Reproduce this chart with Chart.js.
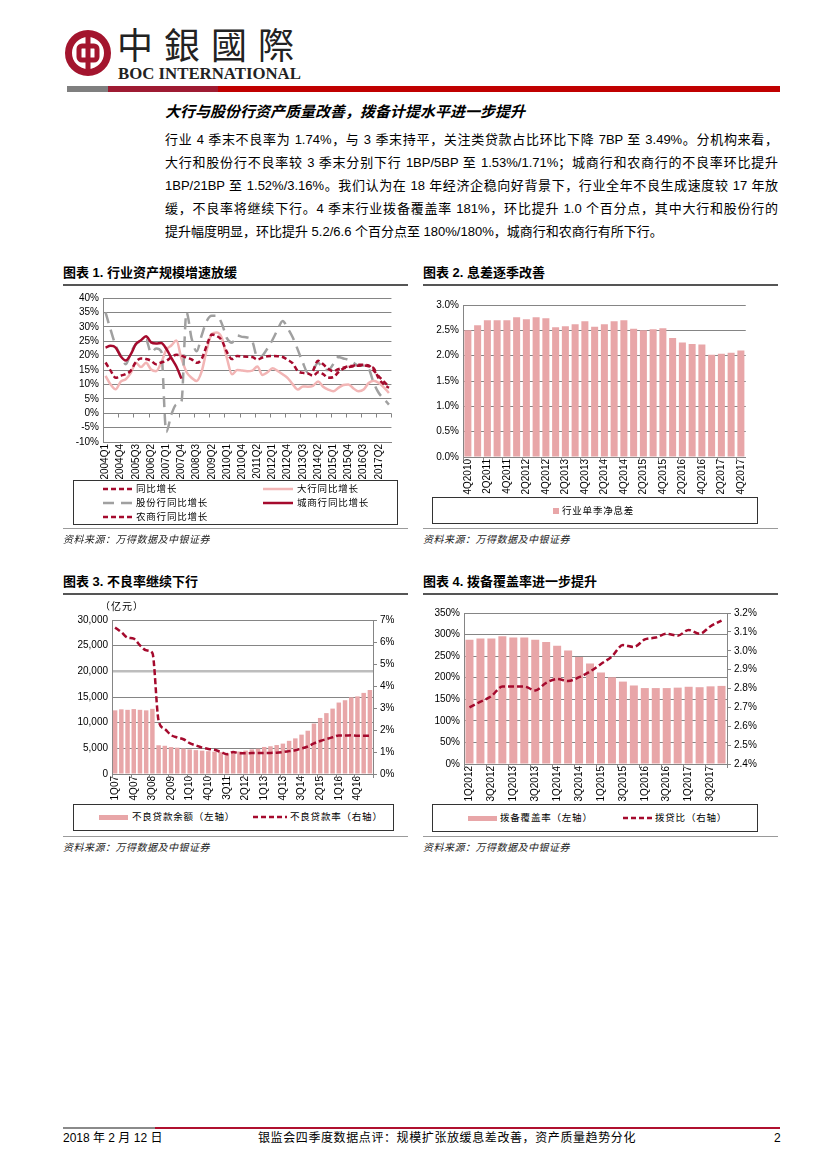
<!DOCTYPE html>
<html>
<head>
<meta charset="utf-8">
<script src="https://cdn.jsdelivr.net/npm/chart.js@4.4.1/dist/chart.umd.min.js"></script>
<style>
  body { margin: 0; width: 827px; height: 1169px; position: relative; background: #fff; overflow: hidden;
         font-family: "Liberation Sans", "Noto Sans CJK SC", sans-serif; color: #000; }
  .abs { position: absolute; }
  .para { position: absolute; left: 165px; width: 613px; font-size: 13px; line-height: 16px; white-space: nowrap; }
  .just { text-align: justify; text-align-last: justify; white-space: normal; }
  .ctitle { position: absolute; font-size: 13px; font-weight: 700; line-height: 16px; font-family: "Liberation Sans", "Noto Sans CJK SC", sans-serif; }
  .rule { position: absolute; height: 2px; background: #555; }
  .thin { position: absolute; height: 1px; background: #9a9a9a; }
  .src { position: absolute; font-size: 10px; font-style: italic; color: #222; line-height: 12px; letter-spacing: 0.5px; }
  .legbox { position: absolute; border: 1px solid #333; box-sizing: border-box; }
  .leg { position: absolute; font-size: 9.5px; letter-spacing: 0.8px; line-height: 12px; white-space: nowrap; }
  canvas { position: absolute; }
</style>
</head>
<body>

<!-- header -->
<svg class="abs" style="left:64px;top:28px" width="48" height="50" viewBox="0 0 48 50">
  <circle cx="24" cy="25" r="19.5" fill="none" stroke="#A3152E" stroke-width="7"/>
  <rect x="15" y="18" width="18" height="14" rx="3" fill="none" stroke="#A3152E" stroke-width="5"/>
  <rect x="21.5" y="4" width="5" height="42" fill="#A3152E"/>
</svg>
<div class="abs" style="left:117px;top:22px;font-family:'Noto Sans CJK TC';font-size:36px;line-height:42px;letter-spacing:11px;color:#222">中銀國際</div>
<div class="abs" style="left:118px;top:65px;font-family:'Liberation Serif';font-weight:700;font-size:16.8px;line-height:18px;color:#222">BOC INTERNATIONAL</div>
<div class="abs" style="left:67px;top:86px;width:41px;height:6px;background:#7f7f7f"></div>
<div class="abs" style="left:108px;top:86px;width:110px;height:6px;background:#9E1B32"></div>
<div class="abs" style="left:218px;top:86px;width:562px;height:6px;background:#C00000"></div>

<div class="abs" style="left:165px;top:103px;font-size:15px;font-weight:700;font-style:italic;line-height:18px">大行与股份行资产质量改善，拨备计提水平进一步提升</div>
<div class="para just" style="top:132px">行业 4 季末不良率为 1.74%，与 3 季末持平，关注类贷款占比环比下降 7BP 至 3.49%。分机构来看，</div>
<div class="para just" style="top:155px">大行和股份行不良率较 3 季末分别下行 1BP/5BP 至 1.53%/1.71%；城商行和农商行的不良率环比提升</div>
<div class="para just" style="top:178px">1BP/21BP 至 1.52%/3.16%。我们认为在 18 年经济企稳向好背景下，行业全年不良生成速度较 17 年放</div>
<div class="para just" style="top:201px">缓，不良率将继续下行。4 季末行业拨备覆盖率 181%，环比提升 1.0 个百分点，其中大行和股份行的</div>
<div class="para" style="top:224px">提升幅度明显，环比提升 5.2/6.6 个百分点至 180%/180%，城商行和农商行有所下行。</div>

<!-- chart titles -->
<div class="ctitle" style="left:63px;top:265px">图表 1. 行业资产规模增速放缓</div>
<div class="rule" style="left:63px;top:284px;width:345px"></div>
<div class="ctitle" style="left:423px;top:265px">图表 2. 息差逐季改善</div>
<div class="rule" style="left:423px;top:284px;width:355px"></div>
<div class="ctitle" style="left:63px;top:574px">图表 3. 不良率继续下行</div>
<div class="rule" style="left:63px;top:593px;width:345px"></div>
<div class="ctitle" style="left:423px;top:574px">图表 4. 拨备覆盖率进一步提升</div>
<div class="rule" style="left:423px;top:593px;width:355px"></div>

<canvas id="c1" width="340" height="192" style="left:63px;top:288px"></canvas>
<canvas id="c2" width="335" height="202" style="left:420px;top:295px"></canvas>
<canvas id="c3" width="345" height="193" style="left:63px;top:610px"></canvas>
<canvas id="c4" width="345" height="200" style="left:420px;top:603px"></canvas>

<div class="abs" style="left:100px;top:601px;font-size:10px;line-height:12px;letter-spacing:1px">（亿元）</div>

<!-- legends -->
<div class="legbox" style="left:73px;top:480px;width:325px;height:45px"></div>
<svg class="abs" style="left:103px;top:483px" width="30" height="40">
  <line x1="0" y1="6" x2="30" y2="6" stroke="#A50A2D" stroke-width="2.5" stroke-dasharray="5,3"/>
  <line x1="0" y1="20" x2="30" y2="20" stroke="#A0A0A0" stroke-width="2.5" stroke-dasharray="11,7"/>
  <line x1="0" y1="34" x2="30" y2="34" stroke="#A50A2D" stroke-width="2.5" stroke-dasharray="5,3"/>
</svg>
<svg class="abs" style="left:263px;top:483px" width="30" height="26">
  <line x1="0" y1="6" x2="30" y2="6" stroke="#F2B5B5" stroke-width="2.5"/>
  <line x1="0" y1="20" x2="30" y2="20" stroke="#A50A2D" stroke-width="2.5"/>
</svg>
<div class="leg" style="left:136px;top:483px">同比增长</div>
<div class="leg" style="left:136px;top:497px">股份行同比增长</div>
<div class="leg" style="left:136px;top:511px">农商行同比增长</div>
<div class="leg" style="left:297px;top:483px">大行同比增长</div>
<div class="leg" style="left:297px;top:497px">城商行同比增长</div>

<div class="legbox" style="left:432px;top:497px;width:326px;height:27px"></div>
<div class="abs" style="left:553px;top:508px;width:6px;height:6px;background:#E8A6A8"></div>
<div class="leg" style="left:562px;top:505px">行业单季净息差</div>

<div class="legbox" style="left:73px;top:804px;width:321px;height:27px"></div>
<div class="abs" style="left:99px;top:815px;width:29px;height:5px;background:#E8A6A8"></div>
<div class="leg" style="left:132px;top:811px">不良贷款余额（左轴）</div>
<svg class="abs" style="left:253px;top:812px" width="34" height="10">
  <line x1="0" y1="5" x2="34" y2="5" stroke="#A50A2D" stroke-width="2.5" stroke-dasharray="5,3"/>
</svg>
<div class="leg" style="left:290px;top:811px">不良贷款率（右轴）</div>

<div class="legbox" style="left:432px;top:804px;width:326px;height:28px"></div>
<div class="abs" style="left:468px;top:816px;width:29px;height:5px;background:#E8A6A8"></div>
<div class="leg" style="left:500px;top:812px">拨备覆盖率（左轴）</div>
<svg class="abs" style="left:623px;top:813px" width="30" height="10">
  <line x1="0" y1="5" x2="30" y2="5" stroke="#A50A2D" stroke-width="2.5" stroke-dasharray="5,3"/>
</svg>
<div class="leg" style="left:655px;top:812px">拨贷比（右轴）</div>

<!-- sources -->
<div class="thin" style="left:63px;top:528px;width:345px"></div>
<div class="thin" style="left:423px;top:528px;width:355px"></div>
<div class="src" style="left:63px;top:534px">资料来源：万得数据及中银证券</div>
<div class="src" style="left:423px;top:534px">资料来源：万得数据及中银证券</div>
<div class="thin" style="left:63px;top:836px;width:345px"></div>
<div class="thin" style="left:423px;top:836px;width:355px"></div>
<div class="src" style="left:63px;top:842px">资料来源：万得数据及中银证券</div>
<div class="src" style="left:423px;top:842px">资料来源：万得数据及中银证券</div>

<!-- footer -->
<div class="abs" style="left:63px;top:1127px;width:92px;height:2px;background:#8a8a8a"></div>
<div class="abs" style="left:155px;top:1127px;width:625px;height:2px;background:#B0102F"></div>
<div class="abs" style="left:63px;top:1131px;font-size:12px;line-height:15px">2018 年 2 月 12 日</div>
<div class="abs" style="left:258px;top:1131px;font-size:12px;line-height:15px;letter-spacing:0.6px">银监会四季度数据点评：规模扩张放缓息差改善，资产质量趋势分化</div>
<div class="abs" style="left:774px;top:1131px;font-size:12px;line-height:15px">2</div>

<script>
// ---- 图表1 data ----
const quarters1 = [
  '2004Q1','2004Q2','2004Q3','2004Q4','2005Q1','2005Q2','2005Q3','2005Q4',
  '2006Q1','2006Q2','2006Q3','2006Q4','2007Q1','2007Q2','2007Q3','2007Q4',
  '2008Q1','2008Q2','2008Q3','2008Q4','2009Q1','2009Q2','2009Q3','2009Q4',
  '2010Q1','2010Q2','2010Q3','2010Q4','2011Q1','2011Q1','2011Q2','2011Q3','2011Q4',
  '2012Q1','2012Q2','2012Q3','2012Q4','2013Q1','2013Q2','2013Q3','2013Q4',
  '2014Q1','2014Q2','2014Q3','2014Q4','2015Q1','2015Q2','2015Q3','2015Q4',
  '2016Q1','2016Q2','2016Q3','2016Q4','2017Q1','2017Q2','2017Q3','2017Q4'
];
const totalGrowth = [
  17.6, 14.8, 12.3, 13.0, 13.6, 14.8, 17.8, 19.0, 18.8, 18.2, 17.0, 17.6, 18.2, 19.4, 20.3, 20.0,
  19.3, 18.7, 17.5, 18.8, 23.5, 27.3, 26.8, 25.2, 21.2, 18.8, 19.9, 19.7, 19.6,
  19.5, 18.6, 19.3, 19.8, 19.9, 19.8, 19.5, 18.5, 17.3, 14.6, 14.0, 13.8, 13.0, 14.2, 13.6, 12.3,
  12.5, 14.2, 15.5, 16.0, 16.3, 16.5, 16.6, 16.3, 15.6, 12.0, 10.0, 8.8
];
const bigBanks = [
  13.0, 10.0, 8.3, 11.0, 11.8, 14.0, 17.5, 16.0, 17.5, 15.2, 14.6, 17.5, 22.0, 23.5, 25.2, 19.0,
  14.3, 12.3, 11.2, 14.5, 22.0, 27.5, 28.0, 26.0, 19.0, 13.5, 15.0, 14.8, 14.6,
  14.8, 16.2, 13.3, 14.2, 15.6, 14.7, 13.5, 12.2, 10.0, 8.2, 9.3, 9.2, 9.5, 11.0, 9.2, 8.2,
  7.6, 8.8, 9.8, 10.0, 8.6, 7.6, 8.2, 10.5, 11.3, 10.5, 9.0, 7.0
];
const jointStock = [
  35.0, 29.0, 23.5, 20.0, 17.0, 21.0, 24.0, 25.0, 25.5, 21.0, 22.5, 21.5, -6.5, -0.5, 3.0, 4.0,
  35.0, 26.0, 21.5, 27.0, 32.0, 33.8, 33.8, 31.0, 26.0, 24.5, 27.0, 26.5, 26.3,
  25.0, 19.5, 20.0, 22.5, 25.5, 29.0, 32.0, 29.5, 26.3, 22.0, 17.5, 14.0, 15.0, 17.5, 15.5, 15.0,
  17.0, 19.5, 19.0, 18.5, 17.5, 16.5, 16.5, 15.5, 10.5, 7.0, 5.0, 3.0
];
const cityBanks = [
  22.8, 23.4, 22.8, 19.8, 18.3, 20.5, 24.0, 25.3, 26.7, 24.6, 24.2, 24.4, 22.4, 19.2, 16.2, 12.0,
  null, null, null, null, null, null, null, null, null, null, null, null, null,
  null, null, null, null, null, null, null, null, null, null, null, null, null, null, null, null,
  null, null, null, null, null, null, null, null, null, null, null, null
];
const ruralBanks = [
  null, null, null, null, null, null, null, null, null, null, null, null, null, null, null, null,
  null, null, null, null, null, null, null, null, null, null, null, null, null,
  null, null, null, null, null, null, null, null, null, null, null, null, 14.7, 18.2, 17.0, 15.4,
  14.6, 15.3, 15.8, 16.3, 16.5, 16.8, 16.8, 16.6, 14.8, 12.8, 11.0, 9.2
];

// ---- 图表2 data ----
const quarters2 = [
  '4Q2010','1Q2011','2Q2011','3Q2011','4Q2011','1Q2012','2Q2012','3Q2012','4Q2012',
  '1Q2013','2Q2013','3Q2013','4Q2013','1Q2014','2Q2014','3Q2014','4Q2014',
  '1Q2015','2Q2015','3Q2015','4Q2015','1Q2016','2Q2016','3Q2016','4Q2016',
  '1Q2017','2Q2017','3Q2017','4Q2017'
];
const nim = [
  2.50, 2.60, 2.70, 2.70, 2.70, 2.76, 2.72, 2.76, 2.74, 2.56, 2.58, 2.62, 2.68, 2.57, 2.62, 2.68,
  2.70, 2.53, 2.50, 2.52, 2.54, 2.35, 2.26, 2.23, 2.22, 2.02, 2.04, 2.06, 2.10
];

// ---- 图表3 data ----
const quarters3 = [
  '1Q07','2Q07','3Q07','4Q07','1Q08','2Q08','3Q08','4Q08','1Q09','2Q09','3Q09','4Q09',
  '1Q10','2Q10','3Q10','4Q10','1Q11','2Q11','3Q11','4Q11','1Q12','2Q12','3Q12','4Q12',
  '1Q13','2Q13','3Q13','4Q13','1Q14','2Q14','3Q14','4Q14','1Q15','2Q15','3Q15','4Q15',
  '1Q16','2Q16','3Q16','4Q16','1Q17','2Q17'
];
const nplBalance = [
  12400, 12600, 12500, 12650, 12500, 12400, 12700, 5600, 5500, 5250, 5130, 4970,
  4800, 4650, 4550, 4450, 4350, 4250, 4100, 4280, 4380, 4560, 4790, 4930,
  5270, 5400, 5640, 5920, 6460, 6940, 7670, 8430, 9830, 10920, 11860, 12740,
  13920, 14370, 14940, 15120, 15800, 16360
];
const nplRatio = [
  6.66, 6.45, 6.20, 6.15, 5.85, 5.62, 5.50, 2.42, 2.04, 1.77, 1.66, 1.58,
  1.40, 1.30, 1.20, 1.14, 1.10, 1.00, 0.90, 1.00, 0.94, 0.94, 0.95, 0.95,
  0.96, 0.96, 0.97, 1.00, 1.04, 1.08, 1.16, 1.25, 1.39, 1.50, 1.59, 1.67,
  1.75, 1.75, 1.76, 1.74, 1.74, 1.74
];

// ---- 图表4 data ----
const quarters4 = [
  '1Q2012','2Q2012','3Q2012','4Q2012','1Q2013','2Q2013','3Q2013','4Q2013',
  '1Q2014','2Q2014','3Q2014','4Q2014','1Q2015','2Q2015','3Q2015','4Q2015',
  '1Q2016','2Q2016','3Q2016','4Q2016','1Q2017','2Q2017','3Q2017','4Q2017'
];
const coverage = [
  288, 291, 291, 296, 293, 293, 288, 283, 274, 263, 248, 233,
  212, 201, 191, 182, 176, 176, 176, 177, 179, 178, 180, 181
];
const provisionRatio = [
  2.70, 2.73, 2.76, 2.81, 2.81, 2.81, 2.79, 2.83, 2.85, 2.84, 2.86, 2.89,
  2.93, 2.97, 3.03, 3.02, 3.06, 3.07, 3.09, 3.08, 3.11, 3.09, 3.13, 3.16
];

// ---- styles ----
const RED = '#A50A2D';
const PINK_LINE = '#F2B5B5';
const GRAY_LINE = '#A0A0A0';
const BAR_PINK = '#E8A6A8';
const GRID = '#858585';
const tickFont = { family: 'Liberation Sans', size: 10 };

Chart.defaults.color = '#000';
Chart.defaults.font.family = 'Liberation Sans';

function everyN(labels, n) {
  return function (v, i) { return i % n === 0 ? labels[i] : ''; };
}
function xAxis(labels, n, height) {
  return {
    offset: true,
    grid: { display: false, drawTicks: false },
    border: { color: GRID },
    ticks: { autoSkip: false, maxRotation: 90, minRotation: 90, font: tickFont, padding: 2, callback: everyN(labels, n) },
    afterFit: function (s) { s.height = height; }
  };
}
const baseOpts = {
  responsive: false,
  animation: false,
  plugins: { legend: { display: false }, tooltip: { enabled: false } }
};

// small tick marks on the 0% line, every 3 quarters
const zeroTicks = {
  id: 'zeroTicks',
  beforeDatasetsDraw(chart) {
    const { ctx, scales } = chart;
    const y0 = Math.round(scales.y.getPixelForValue(0)) + 0.5;
    ctx.save();
    ctx.strokeStyle = GRID;
    ctx.lineWidth = 1;
    for (let i = 2.5; i < quarters1.length; i += 3) {
      const px = Math.round(scales.x.getPixelForValue(i)) + 0.5;
      ctx.beginPath(); ctx.moveTo(px, y0); ctx.lineTo(px, y0 + 4); ctx.stroke();
    }
    ctx.restore();
  }
};

// tick marks under bar-chart axes
function boundaryTicks(n) {
  return {
    id: 'bt' + n,
    afterDatasetsDraw(chart) {
      const { ctx, scales, chartArea } = chart;
      const x = scales.x;
      ctx.save();
      ctx.strokeStyle = GRID;
      ctx.lineWidth = 1;
      for (let i = 0; i <= x.ticks.length; i += n) {
        const px = Math.round(x.getPixelForValue(i - 0.5)) + 0.5;
        ctx.beginPath(); ctx.moveTo(px, chartArea.bottom); ctx.lineTo(px, chartArea.bottom + 4); ctx.stroke();
      }
      ctx.restore();
    }
  };
}

// ---- 图表1 ----
new Chart(document.getElementById('c1'), {
  type: 'line',
  data: {
    labels: quarters1,
    datasets: [
      { label: '同比增长', data: totalGrowth, borderColor: RED, borderWidth: 2.5, borderDash: [5, 3] },
      { label: '农商行同比增长', data: ruralBanks, borderColor: RED, borderWidth: 2.5, borderDash: [5, 3] },
      { label: '城商行同比增长', data: cityBanks, borderColor: RED, borderWidth: 2.5 },
      { label: '股份行同比增长', data: jointStock, borderColor: GRAY_LINE, borderWidth: 2.5, borderDash: [11, 7] },
      { label: '大行同比增长', data: bigBanks, borderColor: PINK_LINE, borderWidth: 2.5 }
    ]
  },
  options: Object.assign({}, baseOpts, {
    layout: { padding: { top: 10, right: 9, left: 0, bottom: 0 } },
    elements: { point: { radius: 0 }, line: { cubicInterpolationMode: 'monotone' } },
    spanGaps: false,
    scales: {
      x: xAxis(quarters1, 3, 38),
      y: {
        min: -10, max: 40,
        grid: { color: GRID, drawTicks: false },
        border: { color: GRID },
        ticks: { stepSize: 5, autoSkip: false, font: tickFont, padding: 4, callback: v => v + '%' },
        afterFit: s => { s.width = 40; }
      }
    }
  }),
  plugins: [zeroTicks]
});

// ---- 图表2 ----
new Chart(document.getElementById('c2'), {
  type: 'bar',
  data: {
    labels: quarters2,
    datasets: [{ label: '行业单季净息差', data: nim, backgroundColor: BAR_PINK, barPercentage: 0.72, categoryPercentage: 1 }]
  },
  options: Object.assign({}, baseOpts, {
    layout: { padding: { top: 10, right: 7, left: 0, bottom: 0 } },
    scales: {
      x: xAxis(quarters2, 2, 40),
      y: {
        min: 0, max: 3.0,
        grid: { color: GRID, drawTicks: false },
        border: { color: GRID },
        ticks: { stepSize: 0.5, autoSkip: false, font: tickFont, padding: 4, callback: v => v.toFixed(1) + '%' },
        afterFit: s => { s.width = 43; }
      }
    }
  }),
  plugins: [boundaryTicks(2)]
});

// ---- 图表3 ----
new Chart(document.getElementById('c3'), {
  type: 'bar',
  data: {
    labels: quarters3,
    datasets: [
      { type: 'line', label: '不良贷款率（右轴）', data: nplRatio, yAxisID: 'y1', borderColor: RED, borderWidth: 2.5,
        borderDash: [6, 3], pointRadius: 0, cubicInterpolationMode: 'monotone' },
      { label: '不良贷款余额（左轴）', data: nplBalance, yAxisID: 'y', backgroundColor: BAR_PINK,
        barPercentage: 0.72, categoryPercentage: 1 }
    ]
  },
  options: Object.assign({}, baseOpts, {
    layout: { padding: { top: 10, right: 0, left: 0, bottom: 0 } },
    scales: {
      x: xAxis(quarters3, 3, 29),
      y: {
        position: 'left', min: 0, max: 30000,
        grid: {
          drawTicks: false,
          color: c => c.tick && c.tick.value === 20000 ? '#BDBDBD' : GRID,
          lineWidth: c => c.tick && c.tick.value === 20000 ? 2.5 : 1
        },
        border: { color: GRID },
        ticks: { stepSize: 5000, autoSkip: false, font: tickFont, padding: 4, callback: v => v.toLocaleString('en-US') },
        afterFit: s => { s.width = 49; }
      },
      y1: {
        position: 'right', min: 0, max: 7,
        grid: { drawOnChartArea: false, color: GRID, tickLength: 4 },
        border: { color: GRID },
        ticks: { stepSize: 1, autoSkip: false, font: tickFont, padding: 3, callback: v => v + '%' },
        afterFit: s => { s.width = 35; }
      }
    }
  }),
  plugins: [boundaryTicks(3)]
});

// ---- 图表4 ----
new Chart(document.getElementById('c4'), {
  type: 'bar',
  data: {
    labels: quarters4,
    datasets: [
      { type: 'line', label: '拨贷比（右轴）', data: provisionRatio, yAxisID: 'y1', borderColor: RED, borderWidth: 2.5,
        borderDash: [6, 3], pointRadius: 0, cubicInterpolationMode: 'monotone' },
      { label: '拨备覆盖率（左轴）', data: coverage, yAxisID: 'y', backgroundColor: BAR_PINK,
        barPercentage: 0.73, categoryPercentage: 1 }
    ]
  },
  options: Object.assign({}, baseOpts, {
    layout: { padding: { top: 8, right: 0, left: 0, bottom: 0 } },
    scales: {
      x: xAxis(quarters4, 2, 39),
      y: {
        position: 'left', min: 0, max: 350,
        grid: { color: GRID, drawTicks: false },
        border: { color: GRID },
        ticks: { stepSize: 50, autoSkip: false, font: tickFont, padding: 4, callback: v => v + '%' },
        afterFit: s => { s.width = 44; }
      },
      y1: {
        position: 'right', min: 2.4, max: 3.2,
        grid: { drawOnChartArea: false, color: GRID, tickLength: 4 },
        border: { color: GRID },
        ticks: { stepSize: 0.1, autoSkip: false, font: tickFont, padding: 3, callback: v => v.toFixed(1) + '%' },
        afterFit: s => { s.width = 38; }
      }
    }
  }),
  plugins: [boundaryTicks(2)]
});
</script>
</body>
</html>
